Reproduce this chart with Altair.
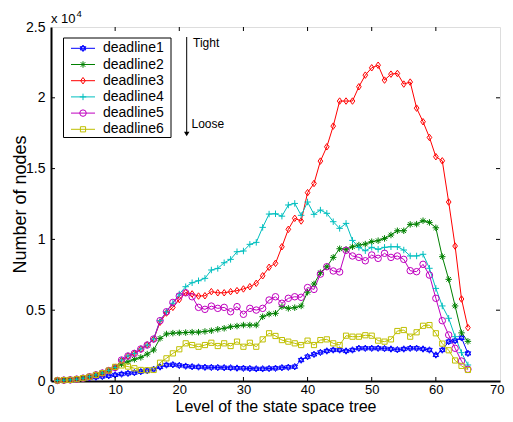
import altair as alt
import pandas as pd

levels = list(range(1, 66))

deadline1 = [40, 60, 80, 120, 170, 220, 270, 320, 370, 430,
             490, 540, 590, 660, 730, 830, 990, 1130, 1150, 1100,
             1050, 1010, 990, 970, 960, 950, 940, 930, 910, 900,
             880, 860, 860, 880, 900, 940, 970, 1010, 1480, 1720,
             1880, 2020, 2120, 2190, 2190, 2120, 2190, 2310, 2310, 2310,
             2310, 2290, 2260, 2210, 2260, 2310, 2310, 2260, 2190, 1840,
             2190, 2780, 2850, 3050, 1950]
deadline2 = [40, 60, 80, 130, 200, 300, 430, 560, 740, 950,
             1200, 1360, 1530, 1670, 1900, 2190, 3010, 3320, 3380, 3400,
             3420, 3450, 3450, 3500, 3550, 3650, 3720, 3830, 3880, 3950,
             3950, 3950, 4540, 4730, 4780, 5250, 5130, 5180, 5300, 6270,
             6850, 7650, 8070, 8730, 9340, 9300, 9480, 9600, 9670, 9840,
             9910, 10070, 10310, 10610, 10610, 11060, 11080, 11320, 11200, 10820,
             8780, 7180, 5300, 3400, 2800]
deadline3 = [40, 60, 80, 130, 200, 300, 430, 560, 740, 950,
             1450, 1750, 1950, 2250, 2550, 2950, 4150, 4800, 5200, 5750,
             6250, 6150, 6000, 6020, 6310, 6230, 6230, 6310, 6380, 6500,
             6660, 6900, 7430, 8030, 8310, 9480, 10710, 11490, 11300, 13300,
             13950, 15530, 16540, 18000, 19770, 19770, 19770, 20780, 21600, 22120,
             22300, 21250, 21670, 21720, 20970, 21110, 19270, 18310, 17200, 15840,
             15550, 12640, 9530, 5790, 3770]
deadline4 = [40, 60, 80, 130, 200, 300, 430, 560, 740, 950,
             1480, 1765, 1950, 2260, 2540, 2965, 4260, 4890, 5490, 6140,
             6660, 6940, 7080, 7250, 7840, 7950, 8350, 8590, 9130, 9180,
             9650, 9790, 10850, 11790, 11810, 11640, 12430, 12540, 11700, 12640,
             11770, 12070, 11840, 11250, 10780, 11130, 9930, 9440, 9200, 9440,
             9300, 9440, 9480, 9480, 9250, 8830, 8830, 8950, 7960, 6540,
             5300, 4430, 3130, 2000, 1130]
deadline5 = [40, 60, 80, 130, 200, 300, 430, 560, 740, 950,
             1480, 1765, 1950, 2260, 2540, 2965, 4260, 4890, 5550, 6000,
             6230, 5950, 5200, 5060, 5290, 5130, 5200, 4890, 5250, 4710,
             5130, 5010, 5130, 5720, 5950, 5490, 5840, 5950, 5910, 6600,
             6470, 7550, 8070, 7770, 7700, 9230, 8830, 8730, 8490, 8900,
             8660, 9020, 8730, 8830, 8590, 7790, 7720, 8240, 7480, 5840,
             4260, 3250, 2310, 1410, 830]
deadline6 = [40, 60, 80, 130, 200, 300, 430, 560, 740, 1000,
             1100, 1020, 900, 780, 760, 780, 1290, 1600, 1950, 2240,
             2660, 2540, 2420, 2540, 2700, 2470, 2660, 2470, 2780, 2420,
             2700, 2420, 2940, 3370, 3180, 2890, 2780, 2660, 2540, 2850,
             2540, 2890, 2940, 2660, 2540, 3200, 3130, 3130, 3230, 3200,
             2850, 2780, 2940, 3530, 3600, 3130, 3440, 3900, 3950, 3370,
             2640, 2170, 1450, 1070, 780]

names = ["deadline1", "deadline2", "deadline3", "deadline4", "deadline5", "deadline6"]
colors = ["#0000ff", "#008000", "#ff0000", "#00bfbf", "#bf00bf", "#bfbf00"]
shapes = [
    "M0,-1L0.866,0.5L-0.866,0.5ZM0,1L0.866,-0.5L-0.866,-0.5Z",
    "M-1,0L1,0M0,-1L0,1M-0.7,-0.7L0.7,0.7M-0.7,0.7L0.7,-0.7",
    "M0,-1L0.72,0L0,1L-0.72,0Z",
    "M-1,0L1,0M0,-1L0,1",
    "circle",
    "M-0.8,-0.8L0.8,-0.8L0.8,0.8L-0.8,0.8Z",
]
x_ticks = [10, 20, 30, 40, 50, 60]
y_ticks = [5000, 10000, 15000, 20000]

series = [deadline1, deadline2, deadline3, deadline4, deadline5, deadline6]
rows = []
for name, vals in zip(names, series):
    for lv, v in zip(levels, vals):
        rows.append({"level": lv, "nodes": v, "series": name})
df = pd.DataFrame(rows)

W, H = 449, 354
FONT = "Liberation Sans"

xscale = alt.Scale(domain=[0, 70], nice=False, zero=False)
yscale = alt.Scale(domain=[0, 25000], nice=False)
cscale = alt.Scale(domain=names, range=colors)
sscale = alt.Scale(domain=names, range=shapes)

xaxis = alt.Axis(values=[0, 10, 20, 30, 40, 50, 60, 70], tickSize=0, labelPadding=2,
                 labelFontSize=13, titleFontSize=16, grid=False,
                 titleX=W / 2, titleY=30.5, titleBaseline="alphabetic",
                 domainColor="black", domainWidth=2, labelColor="black", titleColor="black",
                 labelFont=FONT, titleFont=FONT, titleFontWeight="normal",
                 labelFlush=True, labelFlushOffset=4,
                 title="Level of the state space tree")
yaxis = alt.Axis(values=[0, 5000, 10000, 15000, 20000, 25000], tickSize=0, labelPadding=6,
                 labelExpr="datum.value / 10000", labelFontSize=14, titleFontSize=18,
                 titleX=-26, titleY=H / 2, titleBaseline="alphabetic",
                 grid=False, domainColor="black", domainWidth=2,
                 labelColor="black", titleColor="black", labelFont=FONT, titleFont=FONT,
                 titleFontWeight="normal", labelFlush=False, title="Number of nodes")

base = alt.Chart(df)
lines = base.mark_line(strokeWidth=1, clip=True).encode(
    x=alt.X("level:Q", scale=xscale, axis=xaxis),
    y=alt.Y("nodes:Q", scale=yscale, axis=yaxis),
    color=alt.Color("series:N", scale=cscale, legend=None),
    detail="series:N",
)
points = base.mark_point(filled=False, strokeWidth=1, size=42, opacity=1).encode(
    x=alt.X("level:Q", scale=xscale, axis=None),
    y=alt.Y("nodes:Q", scale=yscale, axis=None),
    color=alt.Color("series:N", scale=cscale, legend=None),
    shape=alt.Shape("series:N", scale=sscale, legend=None),
)

xt = pd.DataFrame({"t": x_ticks})
yt = pd.DataFrame({"t": y_ticks})
xt_bot = alt.Chart(xt).mark_rule(color="black", strokeWidth=1).encode(
    x=alt.X("t:Q", scale=xscale, axis=None), y=alt.value(H - 4), y2=alt.value(H))
xt_top = alt.Chart(xt).mark_rule(color="black", strokeWidth=1).encode(
    x=alt.X("t:Q", scale=xscale, axis=None), y=alt.value(0), y2=alt.value(4))
yt_left = alt.Chart(yt).mark_rule(color="black", strokeWidth=1).encode(
    y=alt.Y("t:Q", scale=yscale, axis=None), x=alt.value(0), x2=alt.value(4))
yt_right = alt.Chart(yt).mark_rule(color="black", strokeWidth=1).encode(
    y=alt.Y("t:Q", scale=yscale, axis=None), x=alt.value(W - 4), x2=alt.value(W))

# legend
leg = pd.DataFrame({"series": names, "row": list(range(6))})
leg_base = alt.Chart(leg).transform_calculate(ly="21.3 + 16.2 * datum.row")
leg_box = alt.Chart(leg.head(1)).mark_rect(fill="white", stroke="black", strokeWidth=1).encode(
    x=alt.value(12.5), x2=alt.value(120), y=alt.value(11), y2=alt.value(110.5))
leg_lines = leg_base.mark_rule(strokeWidth=1).encode(
    x=alt.value(20), x2=alt.value(44),
    y=alt.Y("ly:Q", scale=None, axis=None),
    color=alt.Color("series:N", scale=cscale, legend=None))
leg_pts = leg_base.mark_point(filled=False, strokeWidth=1, size=42, opacity=1).encode(
    x=alt.value(32),
    y=alt.Y("ly:Q", scale=None, axis=None),
    color=alt.Color("series:N", scale=cscale, legend=None),
    shape=alt.Shape("series:N", scale=sscale, legend=None))
leg_txt = leg_base.mark_text(align="left", baseline="middle", fontSize=14, font=FONT,
                             color="black").encode(
    x=alt.value(52), y=alt.Y("ly:Q", scale=None, axis=None), text="series:N")

# annotations
ann = pd.DataFrame({"a": [0]})
ann_base = alt.Chart(ann)
exp_txt = ann_base.mark_text(align="left", baseline="alphabetic", fontSize=13, font=FONT,
                             color="black").encode(x=alt.value(0), y=alt.value(-4.5),
                                                   text=alt.value("x 10"))
exp_sup = ann_base.mark_text(align="left", baseline="alphabetic", fontSize=9.5, font=FONT,
                             color="black").encode(x=alt.value(25.5), y=alt.value(-10),
                                                   text=alt.value("4"))
tight = ann_base.mark_text(align="left", baseline="alphabetic", fontSize=12, font=FONT,
                           color="black").encode(x=alt.value(142), y=alt.value(19.5),
                                                 text=alt.value("Tight"))
loose = ann_base.mark_text(align="left", baseline="alphabetic", fontSize=12, font=FONT,
                           color="black").encode(x=alt.value(140.5), y=alt.value(100.7),
                                                 text=alt.value("Loose"))
arrow_line = ann_base.mark_rule(color="black", strokeWidth=1).encode(
    x=alt.value(135.7), y=alt.value(10), y2=alt.value(106))
arrow_head = ann_base.mark_point(shape="triangle-down", filled=True, color="black",
                                 size=30, opacity=1).encode(x=alt.value(135.7), y=alt.value(107))

chart = alt.layer(
    lines, points, xt_bot, xt_top, yt_left, yt_right,
    leg_box, leg_lines, leg_pts, leg_txt,
    exp_txt, exp_sup, tight, loose, arrow_line, arrow_head,
).resolve_scale(
    x="independent", y="independent"
).properties(
    width=W, height=H,
    autosize=alt.AutoSizeParams(type="none"),
    padding={"left": 43, "top": 19, "right": 5, "bottom": 33},
).configure_view(
    stroke="black", strokeWidth=1.3
).configure(background="white")

chart.save("out.html", embed_options={"renderer": "svg", "actions": False})
